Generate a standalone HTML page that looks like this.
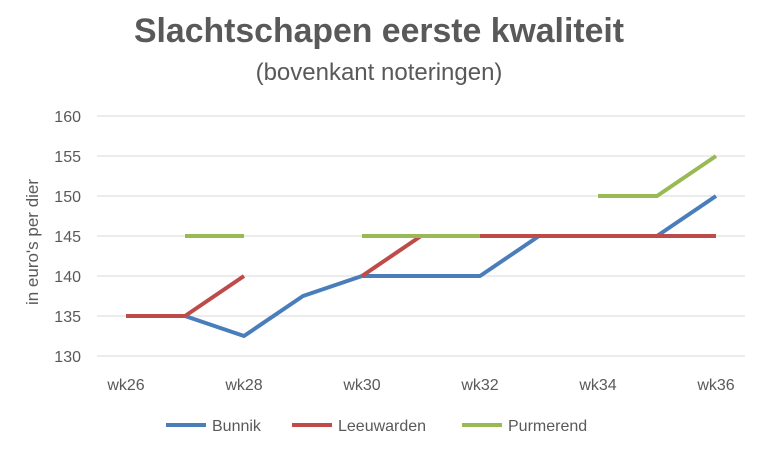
<!DOCTYPE html>
<html><head><meta charset="utf-8"><style>
body{margin:0;background:#fff;font-family:"Liberation Sans",sans-serif}
svg text{font-family:"Liberation Sans",sans-serif}
</style></head><body>
<svg id="chart" width="768" height="449" xmlns="http://www.w3.org/2000/svg">
<rect width="768" height="449" fill="#fff"/>
<text x="379" y="42" text-anchor="middle" font-size="34" font-weight="bold" fill="#595959" textLength="490" lengthAdjust="spacingAndGlyphs">Slachtschapen eerste kwaliteit</text>
<text x="379" y="80" text-anchor="middle" font-size="24" fill="#595959">(bovenkant noteringen)</text>
<text transform="translate(38,242) rotate(-90)" text-anchor="middle" font-size="17" fill="#595959">in euro's per dier</text>
<g id="grid"></g><g id="series"></g><g id="labels"></g>
<g>
<line x1="166" y1="425" x2="206" y2="425" stroke="#4a7ebb" stroke-width="4"/>
<text x="212" y="431" font-size="16" fill="#595959">Bunnik</text>
<line x1="292" y1="425" x2="332" y2="425" stroke="#be4b48" stroke-width="4"/>
<text x="338" y="431" font-size="16" fill="#595959">Leeuwarden</text>
<line x1="462" y1="425" x2="502" y2="425" stroke="#98b954" stroke-width="4"/>
<text x="508" y="431" font-size="16" fill="#595959">Purmerend</text>
</g>
</svg>
<script>
const categories=["wk26","wk27","wk28","wk29","wk30","wk31","wk32","wk33","wk34","wk35","wk36"];
const yTicks=[130,135,140,145,150,155,160];
const bunnik=[135,135,132.5,137.5,140,140,140,145,145,145,150];
const leeuwarden=[135,135,140,null,140,145,145,145,145,145,145];
const purmerend=[null,145,145,null,145,145,145,null,150,150,155];
const NS="http://www.w3.org/2000/svg";
const x=i=>126+i*59;
const y=v=>356-(v-130)*8;
const grid=document.getElementById('grid'),labels=document.getElementById('labels'),ser=document.getElementById('series');
yTicks.forEach(t=>{
 const l=document.createElementNS(NS,'line');
 
 
 l.setAttribute('x1',97);l.setAttribute('x2',745);l.setAttribute('y1',y(t));l.setAttribute('y2',y(t));
 l.setAttribute('stroke','#d9d9d9');l.setAttribute('stroke-width',1);grid.appendChild(l);
 const tx=document.createElementNS(NS,'text');
 
 
 tx.setAttribute('x',81);tx.setAttribute('y',y(t)+6);tx.setAttribute('text-anchor','end');
 tx.setAttribute('font-size',16);tx.setAttribute('fill','#595959');tx.textContent=t;labels.appendChild(tx);
});
categories.forEach((c,i)=>{ if(i%2) return;
 const tx=document.createElementNS(NS,'text');
 
 
 tx.setAttribute('x',x(i));tx.setAttribute('y',390);tx.setAttribute('text-anchor','middle');
 tx.setAttribute('font-size',16);tx.setAttribute('fill','#595959');tx.textContent=c;labels.appendChild(tx);
});
function draw(data,color,name){
 let d='',pen=false;
 data.forEach((v,i)=>{ if(v==null){pen=false;return;} d+=(pen?'L':'M')+x(i)+' '+y(v)+' '; pen=true;});
 const p=document.createElementNS(NS,'path');
 
 
 p.setAttribute('d',d);p.setAttribute('fill','none');p.setAttribute('stroke',color);
 p.setAttribute('stroke-width',4);p.setAttribute('stroke-linejoin','round');ser.appendChild(p);
}
draw(bunnik,'#4a7ebb','series-bunnik');
draw(leeuwarden,'#be4b48','series-leeuwarden');
draw(purmerend,'#98b954','series-purmerend');
</script>
</body></html>
